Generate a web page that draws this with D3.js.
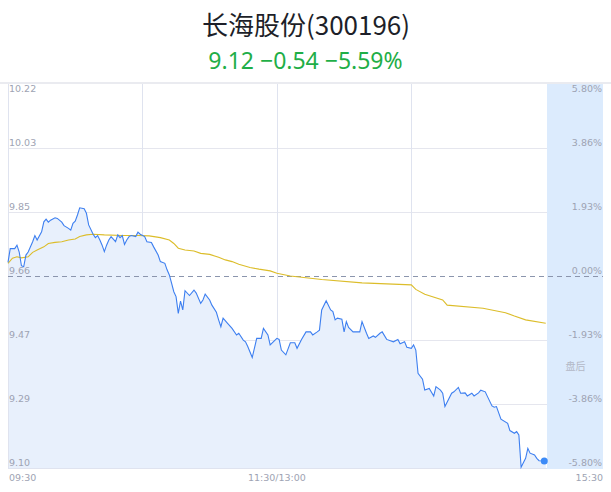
<!DOCTYPE html>
<html><head><meta charset="utf-8">
<script src="https://cdn.jsdelivr.net/npm/d3@7"></script>
<style>
html,body{margin:0;padding:0;background:#fff;}
svg{display:block;}
</style></head>
<body>
<svg id="c" width="611" height="492"></svg>
<script>
const title = "长海股份(300196)";
const subtitle = "9.12 −0.54 −5.59%";
const prevClose = 9.66;
const maxPct = 5.80;
const leftTickLabels = ["10.22","10.03","9.85","9.66","9.47","9.29","9.10"];
const rightTickLabels = ["5.80%","3.86%","1.93%","0.00%","-1.93%","-3.86%","-5.80%"];
const timeLabels = ["09:30","11:30/13:00","15:30"];
const afterHoursLabel = "盘后";

// minute index (0..240) and price
const priceMinutes = [0,1,3,4,5,6,7,8,9,11,12,13,15,16,17,18,19,21,22,24,25,27,28,29,30,31,32,34,35,36,38,39,40,41,42,43,44,45,46,48,49,50,51,52,53,54,55,57,58,59,61,62,64,65,67,68,70,71,72,73,74,75,76,77,78,79,81,83,84,86,87,88,90,91,93,94,95,96,98,100,102,103,105,106,107,109,111,113,114,116,117,120,
121,122,124,126,128,129,131,133,135,136,138,139,140,142,144,145,146,147,149,150,151,152,154,157,158,160,161,163,164,166,167,169,172,174,175,177,178,180,
181,182,183,185,186,188,190,191,193,194,195,198,199,201,202,204,205,207,208,210,211,213,214,216,217,218,220,223,224,226,227,228,229,231,232,233,235,236,237,240];
const prices = [9.70,9.74,9.74,9.75,9.73,9.69,9.687,9.721,9.730,9.760,9.778,9.765,9.789,9.818,9.826,9.817,9.823,9.830,9.828,9.817,9.807,9.799,9.794,9.814,9.820,9.838,9.859,9.856,9.843,9.809,9.782,9.772,9.778,9.765,9.750,9.731,9.750,9.765,9.775,9.760,9.780,9.772,9.778,9.752,9.765,9.775,9.778,9.775,9.788,9.782,9.775,9.760,9.758,9.745,9.721,9.702,9.697,9.678,9.663,9.639,9.614,9.600,9.551,9.587,9.561,9.617,9.603,9.619,9.610,9.580,9.590,9.607,9.590,9.575,9.554,9.532,9.512,9.537,9.522,9.507,9.488,9.493,9.473,9.468,9.454,9.422,9.478,9.478,9.507,9.488,9.459,9.478,
9.475,9.444,9.430,9.465,9.465,9.449,9.475,9.497,9.497,9.488,9.497,9.502,9.561,9.588,9.561,9.556,9.532,9.537,9.534,9.497,9.527,9.510,9.497,9.497,9.527,9.493,9.478,9.485,9.481,9.493,9.497,9.475,9.468,9.475,9.462,9.468,9.452,9.449,
9.459,9.444,9.376,9.359,9.327,9.332,9.310,9.337,9.327,9.318,9.279,9.318,9.322,9.335,9.318,9.319,9.310,9.318,9.310,9.319,9.327,9.322,9.308,9.281,9.277,9.279,9.242,9.230,9.209,9.201,9.206,9.196,9.102,9.128,9.157,9.143,9.138,9.128,9.121,9.12];

const avgMinutes = [0,2,4,6,9,11,13,16,18,21,24,27,30,32,35,38,43,51,58,63,68,72,74,76,79,83,86,90,94,97,100,103,108,112,117,120,126,140,158,180,182,186,194,196,212,222,226,231,240];
const avgPrices = [9.697,9.712,9.716,9.713,9.716,9.729,9.736,9.745,9.755,9.758,9.760,9.765,9.768,9.775,9.780,9.782,9.780,9.778,9.778,9.777,9.772,9.765,9.755,9.741,9.736,9.733,9.726,9.723,9.715,9.707,9.702,9.694,9.685,9.680,9.675,9.668,9.660,9.650,9.640,9.634,9.621,9.607,9.590,9.575,9.566,9.553,9.543,9.532,9.522];

const svg = d3.select("#c");
const L = 8, R = 548, T = 84, B = 468, AH_R = 603;

const x = d3.scaleLinear().domain([0, 241]).range([L, R]);
const lo = prevClose * (1 - maxPct/100), hi = prevClose * (1 + maxPct/100);
const y = d3.scaleLinear().domain([lo, hi]).range([B, T]);
const yPct = d3.scaleLinear().domain([-maxPct, maxPct]).range([B, T]);

// title
svg.append("text").attr("x", 306).attr("y", 35).attr("text-anchor","middle")
  .attr("font-family","'Noto Sans CJK SC', 'Noto Sans', sans-serif").attr("font-size",26)
  .attr("fill","#1d1f29").text(title);
svg.append("text").attr("x", 305.5).attr("y", 69).attr("text-anchor","middle")
  .attr("font-family","'Noto Sans', 'Liberation Sans', sans-serif").attr("font-size",23)
  .attr("fill","#1fae47").text(subtitle);

// top border
svg.append("rect").attr("x",0).attr("y",82).attr("width",611).attr("height",2).attr("fill","#eaebf0");

// after-hours panel
svg.append("rect").attr("x",R-1).attr("y",T).attr("width",AH_R-R+1).attr("height",B-T+1).attr("fill","#dcebfd");

// area + grid
const pctTicks = d3.range(-3,4).map(k => maxPct*k/3);
const grid = svg.append("g");
pctTicks.forEach(p => {
  if (Math.abs(p) < 1e-9 || p === maxPct) return;
  grid.append("line").attr("x1",L).attr("x2",R-1).attr("y1",Math.round(yPct(p))+0.5).attr("y2",Math.round(yPct(p))+0.5)
    .attr("stroke","#e5e6ee").attr("stroke-width",1);
});

const area = d3.area().x((d,i)=>x(priceMinutes[i])).y0(B).y1(d=>y(d)).curve(d3.curveLinear);
svg.append("path").datum(prices).attr("d",area).attr("fill","#e8f0fc");

[60,120,180].forEach(m => {
  grid.append("line").attr("x1",Math.round(x(m))+0.5).attr("x2",Math.round(x(m))+0.5).attr("y1",T).attr("y2",B)
    .attr("stroke","#dfe3ef").attr("stroke-width",1);
});
svg.append("line").attr("x1",L+0.5).attr("x2",L+0.5).attr("y1",T).attr("y2",B+1).attr("stroke","#dfe3ef");
svg.append("line").attr("x1",L).attr("x2",R-1).attr("y1",B+0.5).attr("y2",B+0.5).attr("stroke","#dfe3ef");

// dashed prev close line
svg.append("line").attr("x1",L).attr("x2",AH_R).attr("y1",Math.round(yPct(0))+0.5).attr("y2",Math.round(yPct(0))+0.5)
  .attr("stroke","#8b95ad").attr("stroke-width",1).attr("stroke-dasharray","5,4");

// avg line
const avgLine = d3.line().x((d,i)=>x(avgMinutes[i])).y(d=>y(d));
svg.append("path").datum(avgPrices).attr("d",avgLine).attr("fill","none").attr("stroke","#dcbd2a").attr("stroke-width",1.1);

// price line
const line = d3.line().x((d,i)=>x(priceMinutes[i])).y(d=>y(d));
svg.append("path").datum(prices).attr("d",line).attr("fill","none").attr("stroke","#3d7ff0").attr("stroke-width",1.1);

// end dot
svg.append("circle").attr("cx",x(priceMinutes[priceMinutes.length-1])-1.5).attr("cy",y(prices[prices.length-1]))
  .attr("r",3.5).attr("fill","#3d8bf7");

// labels
const lab = svg.append("g").attr("font-family","'DejaVu Sans', sans-serif").attr("font-size",9.5).attr("fill","#9ea3b3");
pctTicks.slice().reverse().forEach((p,i) => {
  const yy = yPct(p);
  lab.append("text").attr("x",L+1).attr("y",yy-2 + (i===0?10:0)).text(leftTickLabels[i]);
  lab.append("text").attr("x",AH_R-1).attr("y",yy-2 + (i===0?10:0)).attr("text-anchor","end").text(rightTickLabels[i]);
});
lab.append("text").attr("x",(R+AH_R)/2).attr("y",370).attr("text-anchor","middle")
  .attr("font-family","'Noto Sans CJK SC', sans-serif").attr("font-size",10).attr("fill","#b3b8c6").text(afterHoursLabel);
lab.append("text").attr("x",L+1).attr("y",481).text(timeLabels[0]);
lab.append("text").attr("x",x(120)).attr("y",481).attr("text-anchor","middle").text(timeLabels[1]);
lab.append("text").attr("x",AH_R).attr("y",481).attr("text-anchor","end").text(timeLabels[2]);
</script>
</body></html>
